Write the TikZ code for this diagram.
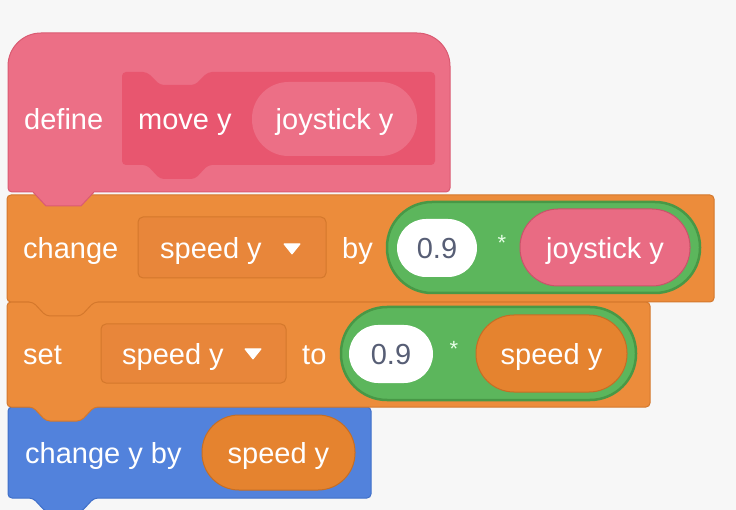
\documentclass[tikz,border=0pt]{standalone}
\usepackage{fontspec}
\setmainfont{Liberation Sans}
\definecolor{bgc}{HTML}{F7F7F7}
\definecolor{pinkA}{HTML}{EC6F86}
\definecolor{pinkB}{HTML}{DA5B72}
\definecolor{pinkC}{HTML}{E8566F}
\definecolor{pinkR}{HTML}{E96B83}
\definecolor{pinkRB}{HTML}{C9536A}
\definecolor{orA}{HTML}{EC8C3B}
\definecolor{orB}{HTML}{D4782C}
\definecolor{orD}{HTML}{E8863A}
\definecolor{orR}{HTML}{E5832F}
\definecolor{orRB}{HTML}{C56E25}
\definecolor{grA}{HTML}{5CB65C}
\definecolor{grB}{HTML}{489846}
\definecolor{blA}{HTML}{5282DC}
\definecolor{blB}{HTML}{3F6FC8}
\definecolor{numc}{HTML}{575E75}
\newcommand\stackblk[6]{%
  \path[fill=#1,draw=#2,line width=1pt,rounded corners=4pt]
    (#3,#4) -- (#5,#4) -- (#5,#6) -- (94,#6) -- (81,{#6+14}) -- (46,{#6+14}) -- (33,#6) -- (#3,#6) -- cycle;}
\tikzset{
  lbl/.style={inner sep=0pt, text=white, font=\fontsize{29}{34}\selectfont},
  numl/.style={inner sep=0pt, text=numc, font=\fontsize{29}{34}\selectfont},
  starl/.style={inner sep=0pt, text=white!90!green, font=\fontsize{22}{26}\selectfont},
  tri/.style={fill=white, draw=white, line width=1pt, line join=round},
}
\begin{document}
\begin{tikzpicture}[x=1pt,y=-1pt]
\useasboundingbox (0,0) rectangle (736,510);
\fill[bgc] (0,0) rectangle (736,510);

% ---- blue block: change y by
\stackblk{blA}{blB}{8}{407}{371}{498}
\path[fill=orR,draw=orRB,line width=1pt,rounded corners=37pt] (202,415) rectangle (355,490);
\node[lbl,anchor=base west] (cyb) at (25,463) {change y by};
\node[lbl,anchor=base] (spd3) at (278.5,463) {speed y};

% ---- set block
\stackblk{orA}{orB}{7}{302}{650}{407}
\path[fill=orD,draw=orB,line width=1pt,rounded corners=5pt] (101,324) rectangle (286,383);
\path[fill=grA,draw=grB,line width=2.5pt,rounded corners=46pt] (341,307) rectangle (636,400);
\path[fill=white,rounded corners=29pt] (349,325) rectangle (433,383);
\path[fill=orR,draw=orRB,line width=1pt,rounded corners=38pt] (476,315) rectangle (627,392);
\node[lbl,anchor=base west] (setl) at (23,365) {set};
\node[lbl,anchor=base west] (spd2) at (122,365) {speed y};
\path[tri] (245,349) -- (261,349) -- (253,359) -- cycle;
\node[lbl,anchor=base west] (tol) at (302,365) {to};
\node[numl,anchor=base] (n2) at (391,365) {0.9};
\node[starl,anchor=center] (st2) at (454,349) {*};
\node[lbl,anchor=base] (spd2b) at (551.5,365) {speed y};

% ---- change block
\stackblk{orA}{orB}{7}{195}{714}{302}
\path[fill=orD,draw=orB,line width=1pt,rounded corners=5pt] (138,217) rectangle (326,278);
\path[fill=grA,draw=grB,line width=2.5pt,rounded corners=45pt] (387,202) rectangle (700,293);
\path[fill=white,rounded corners=29pt] (397,219) rectangle (477,277);
\path[fill=pinkR,draw=pinkRB,line width=1pt,rounded corners=38pt] (520,209) rectangle (690,286);
\node[lbl,anchor=base west] (chl) at (23,259) {change};
\node[lbl,anchor=base west] (spd1) at (160,259) {speed y};
\path[tri] (284,244) -- (300,244) -- (292,254) -- cycle;
\node[lbl,anchor=base west] (byl) at (342,259) {by};
\node[numl,anchor=base] (n1) at (437,259) {0.9};
\node[starl,anchor=center] (st1) at (502,243) {*};
\node[lbl,anchor=base] (joy2) at (605,259) {joystick y};

% ---- define hat block
\path[fill=pinkA,draw=pinkB,line width=1pt]
  (8,150) -- (8,66) arc[start angle=180,end angle=90,radius=33pt]
  -- (417,33) arc[start angle=90,end angle=0,radius=33pt]
  -- (450,188) arc[start angle=0,end angle=-90,radius=4pt]
  -- (94,192) -- (81,206) -- (46,206) -- (33,192)
  -- (12,192) arc[start angle=270,end angle=180,radius=4pt] -- cycle;
\path[fill=pinkC,rounded corners=4pt]
  (122,72) -- (147,72) -- (160,85) -- (195,85) -- (208,72) -- (435,72)
  -- (435,165) -- (208,165) -- (195,179) -- (160,179) -- (147,165) -- (122,165) -- cycle;
\path[fill=pinkA,rounded corners=36.5pt] (252,82) rectangle (417,156);
\node[lbl,anchor=base west] (defl) at (24,130) {define};
\node[lbl,anchor=base west] (mvy) at (138,130) {move y};
\node[lbl,anchor=base] (joy1) at (334.5,130) {joystick y};
\end{tikzpicture}
\end{document}
